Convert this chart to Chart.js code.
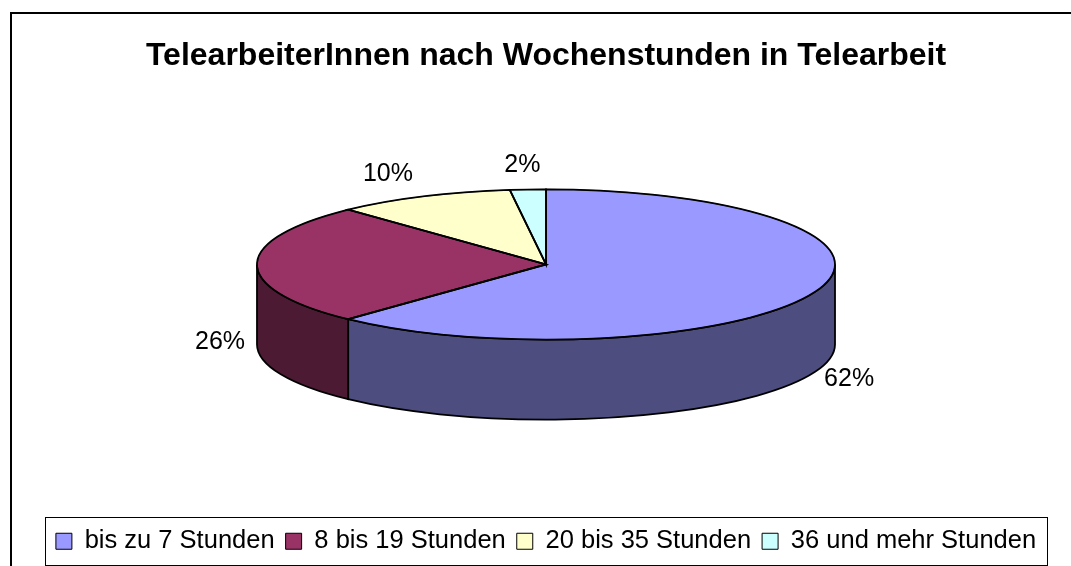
<!DOCTYPE html>
<html>
<head>
<meta charset="utf-8">
<script src="https://cdn.jsdelivr.net/npm/chart.js"></script>
<style>
  html, body { margin: 0; padding: 0; background: #fff; }
</style>
</head>
<body>
<canvas id="pie-chart" width="1071" height="566"></canvas>
<script>
var categories = ['bis zu 7 Stunden', '8 bis 19 Stunden', '20 bis 35 Stunden', '36 und mehr Stunden'];
var shares = [62, 26, 10, 2];
var topColors = ['#9999ff', '#993366', '#ffffcc', '#ccffff'];
var sideColors = ['#4d4d80', '#4d1a33', '#808066', '#668080'];

var tilt = 0.26;   // height/width of the pie seen from above
var depth = 80;    // thickness of the pie
var fontFamily = '"Liberation Sans", Arial, sans-serif';

function arcProps(arc) {
    return arc.getProps(['x', 'y', 'startAngle', 'endAngle', 'outerRadius'], true);
}

// draws the pie as a flat cylinder: walls first, then chart.js arcs squashed, then labels
var pie3d = {
    id: 'pie3d',
    beforeDraw: function (chart) {
        var ctx = chart.ctx;
        ctx.save();
        ctx.strokeStyle = '#000';
        ctx.lineWidth = 2;
        ctx.strokeRect(11, 13, 1200, 700);
        ctx.restore();
    },
    beforeDatasetsDraw: function (chart) {
        var ctx = chart.ctx;
        var arcs = chart.getDatasetMeta(0).data;
        ctx.save();
        ctx.lineWidth = 1.8;
        ctx.strokeStyle = '#000';
        arcs.forEach(function (arc, i) {
            var p = arcProps(arc);
            var cy = p.y - depth / 2;
            var r = p.outerRadius;
            // only the front half (0..PI) of the wall is visible
            var a1 = Math.max(p.startAngle, 0);
            var a2 = Math.min(p.endAngle, Math.PI);
            if (a2 <= a1) return;
            ctx.beginPath();
            ctx.ellipse(p.x, cy, r, r * tilt, 0, a1, a2, false);
            ctx.ellipse(p.x, cy + depth, r, r * tilt, 0, a2, a1, true);
            ctx.closePath();
            ctx.fillStyle = sideColors[i];
            ctx.fill();
            ctx.stroke();
        });
        ctx.restore();

        var p0 = arcProps(arcs[0]);
        ctx.save();
        ctx.translate(p0.x, p0.y - depth / 2);
        ctx.scale(1, tilt);
        ctx.translate(-p0.x, -p0.y);
    },
    afterDatasetsDraw: function (chart) {
        var ctx = chart.ctx;
        ctx.restore();
        var arcs = chart.getDatasetMeta(0).data;
        var total = shares.reduce(function (a, b) { return a + b; }, 0);
        ctx.save();
        ctx.lineWidth = 1.8;
        ctx.strokeStyle = '#000';
        arcs.forEach(function (arc, i) {
            var p = arcProps(arc);
            var cy = p.y - depth / 2;
            var r = p.outerRadius;
            ctx.beginPath();
            ctx.moveTo(p.x, cy);
            ctx.ellipse(p.x, cy, r, r * tilt, 0, p.startAngle, p.endAngle, false);
            ctx.closePath();
            ctx.stroke();
        });
        ctx.fillStyle = '#000';
        ctx.font = '25px ' + fontFamily;
        ctx.textAlign = 'center';
        ctx.textBaseline = 'middle';
        arcs.forEach(function (arc, i) {
            var p = arcProps(arc);
            var cy = p.y - depth / 2;
            var mid = (p.startAngle + p.endAngle) / 2;
            var up = -Math.sin(mid);
            var lx = p.x + Math.cos(mid) * (p.outerRadius + 37 + 50 * Math.max(0, up));
            var ly = cy + Math.sin(mid) * 100 + (up < 0.01 ? depth - 2 : 0);
            ctx.fillText(Math.round(shares[i] / total * 100) + '%', lx, ly);
        });
        ctx.restore();
    },
    afterDraw: function (chart) {
        var boxes = chart.legend.legendHitBoxes;
        if (!boxes || !boxes.length) return;
        var first = boxes[0], last = boxes[boxes.length - 1];
        var cyl = first.top + first.height / 2;
        var ctx = chart.ctx;
        ctx.save();
        ctx.strokeStyle = '#000';
        ctx.lineWidth = 1;
        ctx.strokeRect(Math.round(first.left - 11) + 0.5, Math.round(cyl - 24.5) + 0.5,
            Math.round(last.left + last.width + 11 - (first.left - 11)), 48);
        ctx.restore();
    }
};

new Chart(document.getElementById('pie-chart'), {
    type: 'pie',
    data: {
        labels: categories,
        datasets: [{
            data: shares,
            backgroundColor: topColors,
            borderColor: '#000',
            borderWidth: 1
        }]
    },
    options: {
        responsive: false,
        animation: false,
        radius: 289,
        layout: { padding: { top: 13, left: 21, right: 0, bottom: 2 } },
        plugins: {
            title: {
                display: true,
                text: 'TelearbeiterInnen nach Wochenstunden in Telearbeit',
                color: '#000',
                font: { family: fontFamily, size: 32, weight: 'bold' },
                padding: { top: 24, bottom: 16 }
            },
            legend: {
                position: 'bottom',
                labels: {
                    color: '#000',
                    font: { family: fontFamily, size: 25.5 },
                    boxWidth: 16,
                    boxHeight: 16,
                    padding: 11
                }
            },
            tooltip: { enabled: false }
        }
    },
    plugins: [pie3d]
});
</script>
</body>
</html>
